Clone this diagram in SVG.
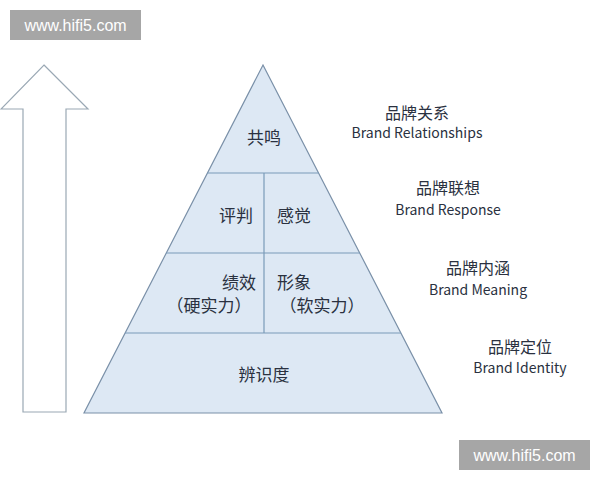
<svg xmlns="http://www.w3.org/2000/svg" width="600" height="480" viewBox="0 0 600 480">
<style>
.s{fill:#dde8f4;stroke:#7a90a8;stroke-width:1.2}
.l{stroke:#7a9ab8;stroke-width:1.2;fill:none}
.t{font-family:"Noto Sans CJK SC","Liberation Sans",sans-serif;font-size:17px;fill:#2a3140}
.r{font-family:"Noto Sans CJK SC","Liberation Sans",sans-serif;font-size:14px;fill:#2a3140;text-anchor:middle}
.c{font-size:16px}
.w{font-family:"Liberation Sans",sans-serif;font-size:16px;fill:#fff;text-anchor:middle}
</style>
<rect width="600" height="480" fill="#fff"/>
<g id="arrow"><polygon points="44,65 88,109 66,109 66,412 23,412 23,109 1,109" fill="#fff" stroke="#9aa8b4" stroke-width="1.2"/></g>
<g id="pyramid"><polygon class="s" points="263,65 442,413 84,413"/></g>
<g id="connectors">
<line class="l" x1="207" y1="173" x2="319" y2="173"/>
<line class="l" x1="166" y1="253" x2="360" y2="253"/>
<line class="l" x1="125" y1="333" x2="401" y2="333"/>
<line class="l" x1="264" y1="173" x2="264" y2="333"/>
</g>
<g id="n1"><text class="t" x="264" y="144" text-anchor="middle">共鸣</text></g>
<g id="n2"><text class="t" x="236" y="222" text-anchor="middle">评判</text></g>
<g id="n3"><text class="t" x="294" y="222" text-anchor="middle">感觉</text></g>
<g id="n4"><text class="t" x="256" y="289" text-anchor="end">绩效</text><text class="t" x="209" y="312" text-anchor="middle">（硬实力）</text></g>
<g id="n5"><text class="t" x="277" y="289">形象</text><text class="t" x="322" y="312" text-anchor="middle">（软实力）</text></g>
<g id="n6"><text class="t" x="264" y="381" text-anchor="middle">辨识度</text></g>
<g id="l1"><text class="r c" x="417" y="119">品牌关系</text><text class="r" x="417" y="138">Brand Relationships</text></g>
<g id="l2"><text class="r c" x="448" y="194">品牌联想</text><text class="r" x="448" y="215">Brand Response</text></g>
<g id="l3"><text class="r c" x="478" y="274">品牌内涵</text><text class="r" x="478" y="295">Brand Meaning</text></g>
<g id="l4"><text class="r c" x="520" y="353">品牌定位</text><text class="r" x="520" y="373">Brand Identity</text></g>
<g id="wm1"><rect x="10" y="10" width="131" height="30" fill="#a6a6a6"/><text class="w" x="75.5" y="31">www.hifi5.com</text></g>
<g id="wm2"><rect x="459" y="440" width="131" height="30" fill="#a6a6a6"/><text class="w" x="524.5" y="461">www.hifi5.com</text></g>
</svg>
